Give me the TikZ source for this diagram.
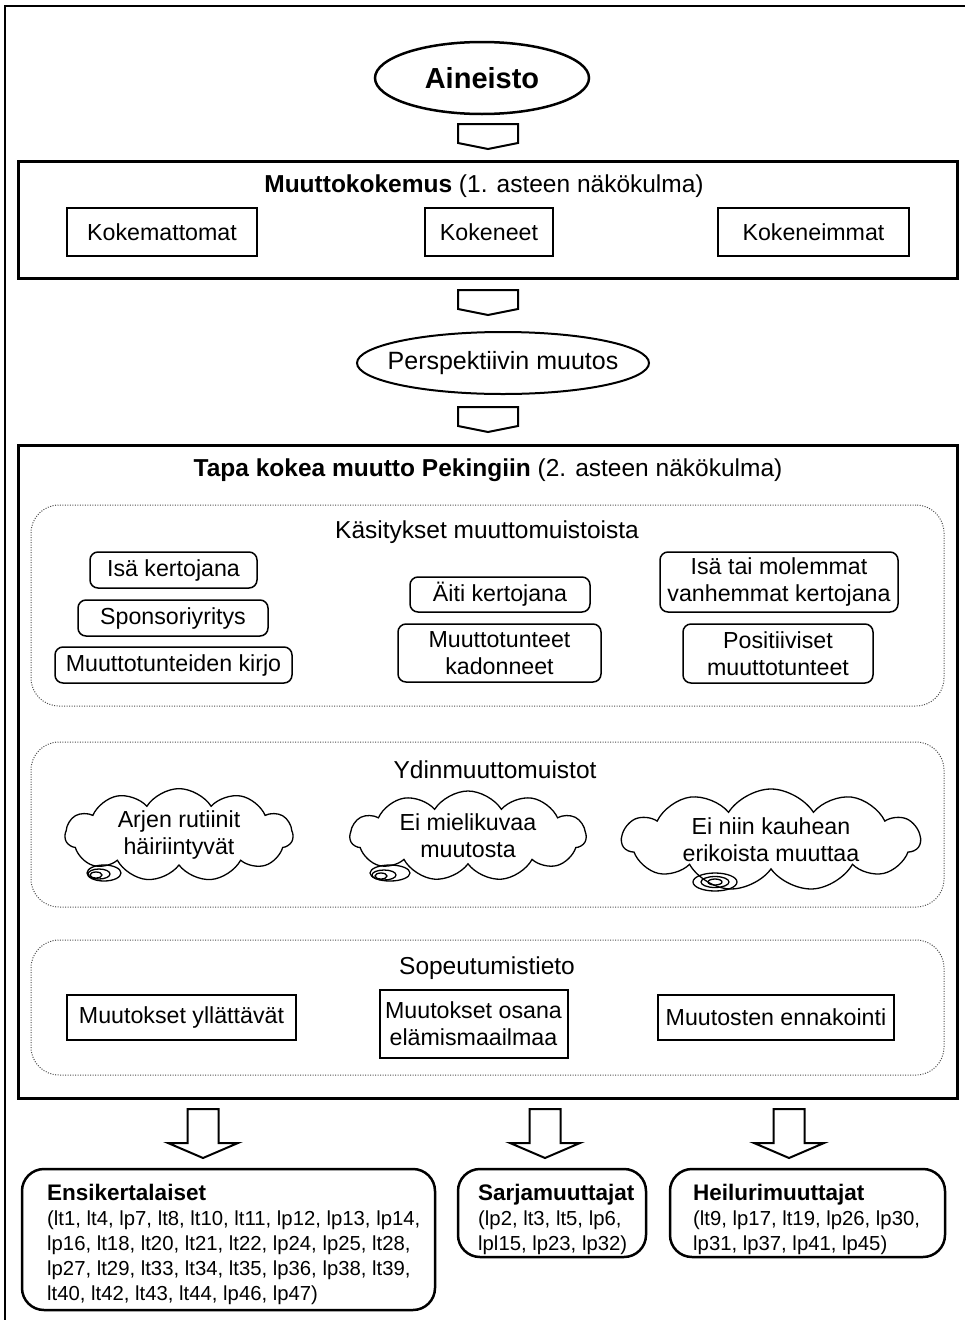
\documentclass[tikz,border=0pt]{standalone}
\usepackage{fontspec}
\setmainfont{Liberation Sans}
\usetikzlibrary{shapes.geometric,shapes.symbols}

\begin{document}
\begin{tikzpicture}[x=1pt,y=-1pt,
  txt/.style={font=\fontsize{23.2}{27}\selectfont, align=center},
  headtxt/.style={font=\fontsize{24.5}{28}\selectfont, align=center},
  heavybox/.style={draw, line width=3, inner sep=0},
  sqbox/.style={draw, line width=2, inner sep=0, txt},
  rbox/.style={draw, line width=1.5, rounded corners=8, inner sep=0, txt},
  dotbox/.style={draw=black!70, line width=1, dash pattern=on 1pt off 1.5pt, rounded corners=28, inner sep=0},
  oval/.style={draw, ellipse, inner sep=0},
  thought/.style={draw, cloud, cloud puffs=11, cloud puff arc=115, cloud ignores aspect, line width=1.3, inner sep=0, txt},
  bubble/.style={draw, line width=1.3},
  groupbox/.style={draw, line width=2.5, rounded corners=22, inner sep=0},
  listtxt/.style={font=\fontsize{20.3}{25}\selectfont, align=left, inner sep=0},
  smallarrow/.pic={\draw[line width=2, line join=miter] (-30,0) -- (30,0) -- (30,19) -- (0,25) -- (-30,19) -- cycle;},
  bigarrow/.pic={\draw[line width=2, line join=miter] (-15.5,0) -- (15.5,0) -- (15.5,34) -- (35,34) -- (0,49) -- (-35,34) -- (-15.5,34) -- cycle;}
]
\useasboundingbox (0,0) rectangle (965,1320);

% page frame
\draw[line width=1.5] (5,6) rectangle (980,1340);

% source material
\node[oval, line width=2.5, minimum width=214, minimum height=72] (aineisto) at (482,78) {};
\node[font=\bfseries\fontsize{29}{32}\selectfont] (aineistotxt) at (aineisto.center) {Aineisto};
\pic at (488,124) {smallarrow};

% first-order perspective
\node[heavybox, minimum width=939, minimum height=117] (kokemus) at (487.5,219.5) {};
\node[headtxt] (kokemustitle) at (484,186) {\textbf{Muuttokokemus} (1. asteen näkökulma)};
\node[sqbox, minimum width=190, minimum height=48] (kokemattomat) at (162,232) {Kokemattomat};
\node[sqbox, minimum width=128, minimum height=48] (kokeneet) at (489,232) {Kokeneet};
\node[sqbox, minimum width=191, minimum height=48] (kokeneimmat) at (813.5,232) {Kokeneimmat};
\pic at (488,290) {smallarrow};

\node[oval, line width=2, minimum width=292, minimum height=62] (perspektiivi) at (503,363) {};
\node[font=\fontsize{25}{29}\selectfont] (perspektiivitxt) at (perspektiivi.center) {Perspektiivin muutos};
\pic at (488,407) {smallarrow};

% second-order perspective
\node[heavybox, minimum width=939, minimum height=653] (tapa) at (487.5,771.5) {};
\node[headtxt] (tapatitle) at (488,470) {\textbf{Tapa kokea muutto Pekingiin} (2. asteen näkökulma)};

% conceptions of moving memories
\node[dotbox, minimum width=913, minimum height=201] (kasitykset) at (487.5,605.5) {};
\node[headtxt] (kasityksettitle) at (487,532) {Käsitykset muuttomuistoista};
\node[rbox, minimum width=167, minimum height=36] (isa) at (173.5,570) {Isä kertojana};
\node[rbox, minimum width=190, minimum height=36] (sponsori) at (173,618) {Sponsoriyritys};
\node[rbox, minimum width=237, minimum height=36] (kirjo) at (173.5,665) {Muuttotunteiden kirjo};
\node[rbox, minimum width=180, minimum height=35] (aiti) at (500,594.5) {Äiti kertojana};
\node[rbox, minimum width=203, minimum height=58] (kadonneet) at (499.5,653) {Muuttotunteet\\kadonneet};
\node[rbox, minimum width=238, minimum height=60] (molemmat) at (779,582) {Isä tai molemmat\\vanhemmat kertojana};
\node[rbox, minimum width=190, minimum height=59] (positiiviset) at (778,653.5) {Positiiviset\\muuttotunteet};

% core moving memories
\node[dotbox, minimum width=913, minimum height=165] (ydin) at (487.5,824.5) {};
\node[headtxt] (ydintitle) at (495,770) {Ydinmuuttomuistot};
\node[thought, minimum width=228, minimum height=90] (arjen) at (179,835) {Arjen rutiinit\\häiriintyvät};
\draw[bubble] (104,873) ellipse [x radius=17, y radius=8];
\draw[bubble] (99,874) ellipse [x radius=11, y radius=5];
\draw[bubble] (96,875) ellipse [x radius=6, y radius=3];
\node[thought, minimum width=236, minimum height=90] (mielikuva) at (468,836) {Ei mielikuvaa\\muutosta};
\draw[bubble] (390,873) ellipse [x radius=20, y radius=8];
\draw[bubble] (384,875) ellipse [x radius=12, y radius=5];
\draw[bubble] (381,876) ellipse [x radius=6, y radius=3];
\node[thought, minimum width=298, minimum height=102] (erikoista) at (771,840) {Ei niin kauhean\\erikoista muuttaa};
\draw[bubble] (715,882) ellipse [x radius=22, y radius=9];
\draw[bubble] (715,882) ellipse [x radius=14, y radius=5.5];
\draw[bubble] (715,882) ellipse [x radius=7, y radius=3];

% adaptation knowledge
\node[dotbox, minimum width=913, minimum height=135] (sopeutuminen) at (487.5,1007.5) {};
\node[headtxt] (sopeutumistitle) at (487,968) {Sopeutumistieto};
\node[sqbox, minimum width=229, minimum height=45] (yllattavat) at (181.5,1017.5) {Muutokset yllättävät};
\node[sqbox, minimum width=188, minimum height=68] (osana) at (473.5,1024) {Muutokset osana\\elämismaailmaa};
\node[sqbox, minimum width=236, minimum height=45] (ennakointi) at (776,1017.5) {Muutosten ennakointi};

% resulting mover types
\pic at (203,1109) {bigarrow};
\pic at (545,1109) {bigarrow};
\pic at (789,1109) {bigarrow};

\node[groupbox, minimum width=413, minimum height=141] (ensi) at (228.5,1239.5) {};
\node[listtxt, anchor=north west] (ensitxt) at (47,1184)
  {{\bfseries\fontsize{22.5}{26}\selectfont Ensikertalaiset}\\
   (lt1, lt4, lp7, lt8, lt10, lt11, lp12, lp13, lp14,\\
   lp16, lt18, lt20, lt21, lt22, lp24, lp25, lt28,\\
   lp27, lt29, lt33, lt34, lt35, lp36, lp38, lt39,\\
   lt40, lt42, lt43, lt44, lp46, lp47)};

\node[groupbox, minimum width=188, minimum height=88] (sarja) at (552,1213) {};
\node[listtxt, anchor=north west] (sarjatxt) at (478,1184)
  {{\bfseries\fontsize{22.5}{26}\selectfont Sarjamuuttajat}\\
   (lp2, lt3, lt5, lp6,\\
   lpl15, lp23, lp32\underline{)}};

\node[groupbox, minimum width=275, minimum height=88] (heiluri) at (807.5,1213) {};
\node[listtxt, anchor=north west] (heiluritxt) at (693,1184)
  {{\bfseries\fontsize{22.5}{26}\selectfont Heilurimuuttajat}\\
   (lt9, lp17, lt19, lp26, lp30,\\
   lp31, lp37, lp41, lp45)};
\end{tikzpicture}
\end{document}
